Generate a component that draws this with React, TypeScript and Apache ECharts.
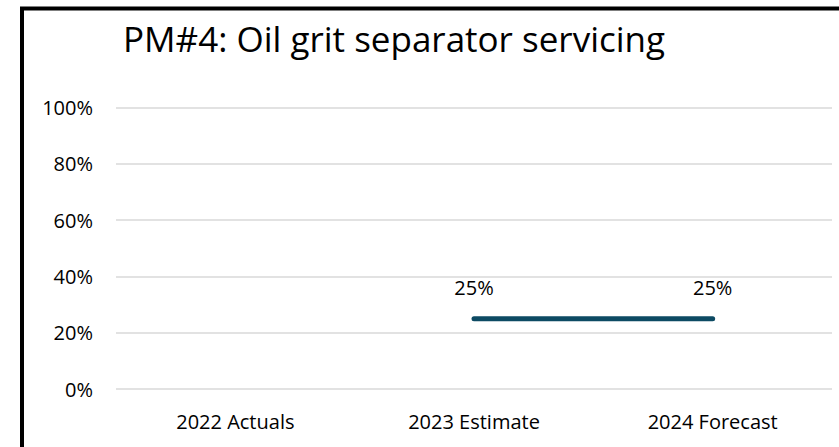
import React, { useEffect, useRef } from "react";
import * as echarts from "echarts";

const categories = ["2022 Actuals", "2023 Estimate", "2024 Forecast"];
const values: (number | null)[] = [null, 25, 25];
const titleText = "PM#4: Oil grit separator servicing";

const FONT = "'Open Sans', sans-serif";

export default function App() {
  const ref = useRef<HTMLDivElement>(null);
  useEffect(() => {
    if (!ref.current) return;
    const chart = echarts.init(ref.current, undefined, { renderer: "svg" });
    chart.setOption({
      animation: false,
      backgroundColor: "#ffffff",
      title: {
        text: titleText,
        left: 118,
        top: 16,
        textStyle: { fontFamily: FONT, fontSize: 35, fontWeight: "normal", color: "#000000" },
      },
      graphic: [
        {
          type: "rect",
          shape: { x: 22, y: 8.5, width: 1000, height: 600 },
          style: { fill: "none", stroke: "#000000", lineWidth: 4 },
          silent: true,
        },
      ],
      grid: { left: 116, right: 7, top: 107.5, bottom: 58 },
      xAxis: {
        type: "category",
        data: categories,
        boundaryGap: true,
        axisLine: { show: false },
        axisTick: { show: false },
        axisLabel: { fontFamily: FONT, fontSize: 20, color: "#000000", margin: 22 },
      },
      yAxis: {
        type: "value",
        min: 0,
        max: 100,
        interval: 20,
        axisLine: { show: false },
        axisTick: { show: false },
        axisLabel: { fontFamily: FONT, fontSize: 20, color: "#000000", margin: 23, formatter: "{value}%" },
        splitLine: { lineStyle: { color: "#d9d9d9", width: 1.5 } },
      },
      series: [
        {
          type: "line",
          data: values,
          showSymbol: true,
          symbol: "circle",
          symbolSize: 2,
          itemStyle: { color: "#0d4a63" },
          lineStyle: { color: "#0d4a63", width: 5, cap: "round" },
          label: {
            show: true,
            position: "top",
            distance: 20,
            formatter: "{c}%",
            fontFamily: FONT,
            fontSize: 20,
            color: "#000000",
          },
        },
      ],
    });
    return () => chart.dispose();
  }, []);
  return (
    <div
      ref={ref}
      style={{ position: "absolute", left: 0, top: 0, width: 839, height: 447 }}
    />
  );
}
